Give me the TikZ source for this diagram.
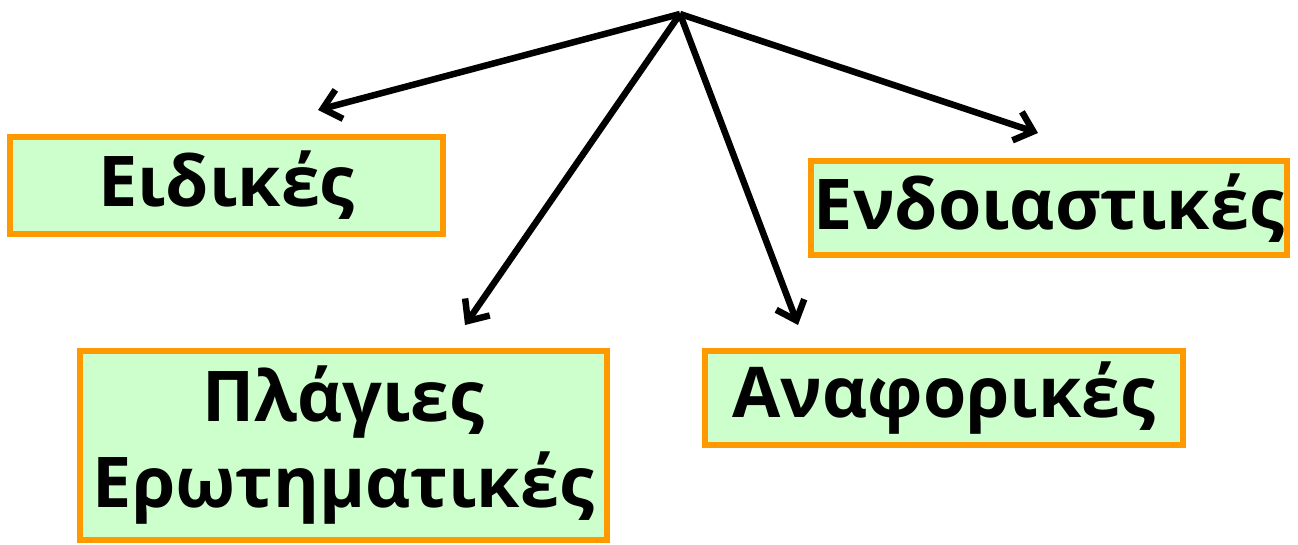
\documentclass[tikz,border=0pt]{standalone}
\usepackage{fontspec}
\setmainfont{Open Sans}
\usetikzlibrary{arrows.meta}
\definecolor{boxfill}{HTML}{CCFFCC}
\definecolor{boxline}{HTML}{FF9900}
\begin{document}
\begin{tikzpicture}[x=1pt,y=-1pt,
  catbox/.style={draw=boxline, fill=boxfill, line width=6pt, inner sep=0pt, align=center,
    font=\fontsize{70}{86}\selectfont\bfseries},
  arr/.style={line width=6.5pt, -{Straight Barb[length=17pt,width=30pt]}}]
\useasboundingbox (0,0) rectangle (1298,545);
\node[catbox, minimum width=433pt, minimum height=97pt] (eid) at (226.5,185.5) {Ειδικές};
\node[catbox, minimum width=476pt, minimum height=94pt] (end) at (1049,208) {Ενδοιαστικές};
\node[catbox, minimum width=478pt, minimum height=94pt] (ana) at (944,398) {Αναφορικές};
\node[catbox, minimum width=527pt, minimum height=189pt] (pla) at (343.5,445.5) {Πλάγιες\\Ερωτηματικές};
\coordinate (apex) at (680,14);
\coordinate (teid) at (318,110);
\coordinate (tpla) at (465,325);
\coordinate (tana) at (798,325);
\coordinate (tend) at (1038,133);
\draw[arr] (apex) -- (teid);
\draw[arr] (apex) -- (tpla);
\draw[arr] (apex) -- (tana);
\draw[arr] (apex) -- (tend);
\end{tikzpicture}
\end{document}
